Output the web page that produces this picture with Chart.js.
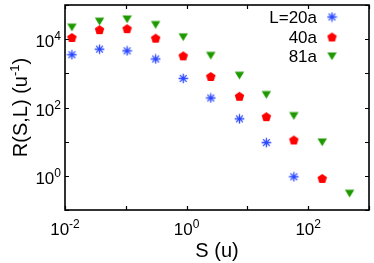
<!DOCTYPE html>
<html>
<head>
<meta charset="utf-8">
<script src="https://cdn.jsdelivr.net/npm/chart.js@4"></script>
<style>
  html, body { margin: 0; padding: 0; background: #fff; }
  #wrap { width: 374px; height: 263px; }
</style>
</head>
<body>
<div id="wrap"><canvas id="rChart"></canvas></div>
<script>
// values
const sValues = [0.013, 0.037, 0.105, 0.31, 0.88, 2.5, 7.4, 20.5, 58, 170, 480];
const r20 = [3500, 5100, 4550, 2630, 710, 190, 46.6, 9.4, 0.94];
const r40 = [11200, 19000, 20300, 10700, 3250, 810, 213, 54, 11.2, 0.84];
const r81 = [22600, 33700, 39000, 26800, 11700, 3360, 880, 240, 58, 9.8, 0.31];
const seriesNames = ['L=20a', '40a', '81a'];
const xTicks = [1e-2, 1e-1, 1, 1e1, 1e2, 1e3];
const yTicks = [1e-1, 1, 1e1, 1e2, 1e3, 1e4, 1e5];
const xLabelPows = [-2, 0, 2];
const yLabelPows = [0, 2, 4];

const FONT = '"Liberation Sans", Arial, sans-serif';

function makeMarker(w, h, draw) {
    const c = document.createElement('canvas');
    c.width = w; c.height = h;
    draw(c.getContext('2d'), w, h);
    return c;
}

const starImg = makeMarker(11, 11, (g, w, h) => {
    g.strokeStyle = '#2b48ff';
    g.lineWidth = 1.3;
    const cx = w / 2, cy = h / 2, r = 4.8;
    g.beginPath();
    for (let k = 0; k < 4; k++) {
        const a = k * Math.PI / 4;
        g.moveTo(cx - r * Math.cos(a), cy - r * Math.sin(a));
        g.lineTo(cx + r * Math.cos(a), cy + r * Math.sin(a));
    }
    g.stroke();
});

const pentImg = makeMarker(11, 11, (g, w, h) => {
    g.fillStyle = '#ff0000';
    const cx = w / 2, cy = h / 2 + 0.4, r = 5;
    g.beginPath();
    for (let k = 0; k < 5; k++) {
        const a = -Math.PI / 2 + k * 2 * Math.PI / 5;
        g.lineTo(cx + r * Math.cos(a), cy + r * Math.sin(a));
    }
    g.closePath();
    g.fill();
});

const triImg = makeMarker(11, 10, (g, w, h) => {
    g.fillStyle = '#1e9a00';
    g.beginPath();
    g.moveTo(0.8, 1.5);
    g.lineTo(w - 0.8, 1.5);
    g.lineTo(w / 2, h - 0.8);
    g.closePath();
    g.fill();
});

const markers = [starImg, pentImg, triImg];

function toPoints(arr) {
    return arr.map((v, i) => ({x: sValues[i], y: v}));
}

function drawPow(ctx, x, y, pow, align) {
    ctx.font = '17px ' + FONT;
    const base = '10';
    const bw = ctx.measureText(base).width;
    ctx.font = '12px ' + FONT;
    const ew = ctx.measureText(String(pow)).width;
    let start;
    if (align === 'center') start = x - (bw + ew) / 2;
    else start = x - bw - ew;
    ctx.textAlign = 'left';
    ctx.textBaseline = 'alphabetic';
    ctx.font = '17px ' + FONT;
    ctx.fillText(base, start, y);
    ctx.font = '12px ' + FONT;
    ctx.fillText(String(pow), start + bw, y - 7);
}

const frame = {
    id: 'frame',
    afterDraw(chart) {
        const {ctx, chartArea: a, scales} = chart;
        const xs = scales.x, ys = scales.y;
        ctx.save();
        ctx.strokeStyle = '#000';
        ctx.fillStyle = '#000';
        ctx.lineWidth = 1.6;
        ctx.strokeRect(a.left, a.top, a.right - a.left, a.bottom - a.top);
        ctx.lineWidth = 1.2;
        ctx.beginPath();
        xTicks.forEach(v => {
            const px = Math.round(xs.getPixelForValue(v)) + 0.5;
            ctx.moveTo(px, a.bottom); ctx.lineTo(px, a.bottom - 4);
            ctx.moveTo(px, a.top); ctx.lineTo(px, a.top + 4);
        });
        yTicks.forEach(v => {
            const py = Math.round(ys.getPixelForValue(v)) + 0.5;
            ctx.moveTo(a.left, py); ctx.lineTo(a.left + 4, py);
            ctx.moveTo(a.right, py); ctx.lineTo(a.right - 4, py);
        });
        ctx.stroke();

        xLabelPows.forEach(p => {
            drawPow(ctx, xs.getPixelForValue(Math.pow(10, p)), 235, p, 'center');
        });
        yLabelPows.forEach(p => {
            drawPow(ctx, 61, ys.getPixelForValue(Math.pow(10, p)) + 8, p, 'right');
        });

        // axis titles
        ctx.font = '20px ' + FONT;
        ctx.textAlign = 'center';
        ctx.textBaseline = 'alphabetic';
        ctx.fillText('S (u)', (a.left + a.right) / 2, 257);

        ctx.save();
        ctx.translate(27, (a.top + a.bottom) / 2);
        ctx.rotate(-Math.PI / 2);
        const t1 = 'R(S,L) (u', t2 = '-1', t3 = ')';
        ctx.font = '20px ' + FONT;
        const w1 = ctx.measureText(t1).width, w3 = ctx.measureText(t3).width;
        ctx.font = '13px ' + FONT;
        const w2 = ctx.measureText(t2).width;
        let sx = -(w1 + w2 + w3) / 2;
        ctx.textAlign = 'left';
        ctx.font = '20px ' + FONT;
        ctx.fillText(t1, sx, 0);
        ctx.font = '13px ' + FONT;
        ctx.fillText(t2, sx + w1, -8);
        ctx.font = '20px ' + FONT;
        ctx.fillText(t3, sx + w1 + w2, 0);
        ctx.restore();

        // legend
        const rows = [17, 37, 56];
        ctx.font = '17px ' + FONT;
        ctx.textAlign = 'right';
        ctx.textBaseline = 'middle';
        seriesNames.forEach((name, i) => {
            ctx.fillText(name, 317, rows[i] + 1);
            const m = markers[i];
            ctx.drawImage(m, 332 - m.width / 2, rows[i] - m.height / 2);
        });
        ctx.restore();
    }
};

const ctx = document.getElementById('rChart').getContext('2d');
const rChart = new Chart(ctx, {
    type: 'scatter',
    data: {
        datasets: [
            {label: seriesNames[0], data: toPoints(r20), pointStyle: starImg},
            {label: seriesNames[1], data: toPoints(r40), pointStyle: pentImg},
            {label: seriesNames[2], data: toPoints(r81), pointStyle: triImg}
        ]
    },
    options: {
        responsive: true,
        maintainAspectRatio: false,
        animation: false,
        layout: {padding: {top: 1, right: 1, left: 0, bottom: 0}},
        plugins: {legend: {display: false}, tooltip: {enabled: false}},
        scales: {
            x: {
                type: 'logarithmic', min: 0.01, max: 1000,
                grid: {display: false}, border: {display: false},
                ticks: {display: false},
                afterFit: s => { s.height = 53; }
            },
            y: {
                type: 'logarithmic', min: 0.1, max: 1e5,
                grid: {display: false}, border: {display: false},
                ticks: {display: false},
                afterFit: s => { s.width = 65; }
            }
        }
    },
    plugins: [frame]
});
</script>
</body>
</html>
